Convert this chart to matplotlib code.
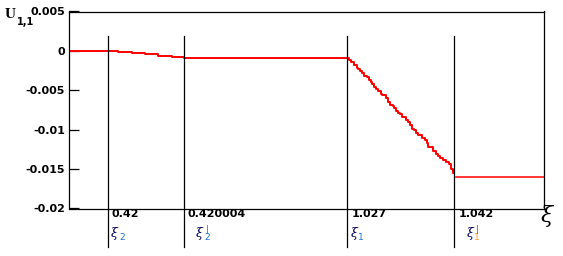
import matplotlib
matplotlib.use("Agg")
import matplotlib.pyplot as plt
from matplotlib.transforms import blended_transform_factory, offset_copy

# ── Data ──────────────────────────────────────────────────────────────────────
# horizontal coordinate is the plot's own arc position (axis has no numeric scale)
S_RANGE = (0, 475)

# step curve U_1,1
step_pos = [0, 49, 62.7, 76, 89, 103, 115,
            280.3, 281.7, 282.3, 285, 287.7, 289, 290.7, 293, 295, 298,
            300.3, 301.7, 303.3, 305.3, 307.3, 309.3, 312, 313, 316.7, 319.3,
            321.3, 324, 325.3, 327.3, 329.3, 331, 333, 336.7, 338.7, 341,
            343.3, 345, 347.3, 349.3, 353.3, 356, 357.7, 358.7, 361, 364.3,
            367, 368.7, 371, 373.7, 377, 379.7, 382, 384, 385.3]
step_u = [0, -0.000127, -0.00025, -0.00038, -0.00063, -0.00076, -0.00089,
          -0.00110, -0.00123, -0.00140, -0.00174, -0.00216, -0.00229, -0.00258, -0.00280, -0.00313, -0.00335,
          -0.00368, -0.00390, -0.00415, -0.00457, -0.00478, -0.00508, -0.00542, -0.00563, -0.00593, -0.00648,
          -0.00681, -0.00702, -0.00724, -0.00758, -0.00783, -0.00796, -0.00838, -0.00872, -0.00902, -0.00940,
          -0.00995, -0.00999, -0.01037, -0.01062, -0.01104, -0.01126, -0.01172, -0.01214, -0.01219, -0.01274,
          -0.01307, -0.01337, -0.01362, -0.01379, -0.01413, -0.01434, -0.01502, -0.01544, -0.01549]

tail_pos = [387, 475]
tail_u = [-0.01595, -0.01595]

# marker lines at the ξ values
xi_pos = [39, 115, 278.3, 385.3]
xi_vals = ["0.42", "0.420004", "1.027", "1.042"]
xi_sub = ["2", "2", "1", "1"]
xi_prime = [False, True, False, True]

y_ticks = [0.005, 0, -0.005, -0.01, -0.015, -0.02]
y_ticklabels = ["0.005", "0", "-0.005", "-0.01", "-0.015", "-0.02"]

# ── Figure ────────────────────────────────────────────────────────────────────
W, H, DPI = 563, 256, 100
fig = plt.figure(figsize=(W / DPI, H / DPI), dpi=DPI)
ax = fig.add_axes([69 / W, 1 - 208.5 / H, 475 / W, 197 / H])

ax.step(step_pos, step_u, where="post", color="red", linewidth=1.4)
ax.plot(tail_pos, tail_u, color="red", linewidth=1.1)

for p in xi_pos:
    ax.axvline(p, ymin=-0.195, ymax=0.876, color="black", linewidth=0.9,
               clip_on=False)

ax.set_xlim(*S_RANGE)
ax.set_ylim(-0.02, 0.005)
ax.set_xticks([])
ax.set_yticks(y_ticks)
ax.set_yticklabels(y_ticklabels, fontfamily="DejaVu Sans",
                   fontweight="bold", fontsize=8)
ax.tick_params(axis="y", direction="in", length=7, width=0.9, pad=3)
for sp in ax.spines.values():
    sp.set_linewidth(0.9)

# y-axis name
fig.text(5 / W, 1 - 15 / H, "U", family="Liberation Serif", weight="bold",
         fontsize=11, va="center", ha="left")
fig.text(17 / W, 1 - 22 / H, "1,1", family="DejaVu Sans", weight="bold",
         fontsize=7, va="center", ha="left")

# labels under the marker lines
trans = blended_transform_factory(ax.transData, fig.transFigure)
navy = "#000060"
blue = "#1874cd"
orange = "#f0a030"
for p, v, sub, pr in zip(xi_pos, xi_vals, xi_sub, xi_prime):
    ax.text(p, 1 - 214 / H, v, transform=offset_copy(trans, fig, x=4, units="dots"),
            family="DejaVu Sans", weight="bold", fontsize=8,
            va="center", ha="left")
    dx = 3 if not pr else 12
    ax.text(p, 1 - 233 / H, "\u03be", transform=offset_copy(trans, fig, x=dx, units="dots"),
            family="DejaVu Serif", style="italic", fontsize=9, color=navy,
            va="center", ha="left")
    sub_col = orange if (pr and sub == "1") else blue
    ax.text(p, 1 - 238 / H, sub, transform=offset_copy(trans, fig, x=dx + 8, units="dots"),
            family="DejaVu Sans", fontsize=6.5, color=sub_col,
            va="center", ha="left")
    if pr:
        ax.text(p, 1 - 229 / H, "|", transform=offset_copy(trans, fig, x=dx + 10, units="dots"),
                family="DejaVu Sans", fontsize=6, color=blue,
                va="center", ha="left")

# axis variable on the right
fig.text(541 / W, 1 - 216 / H, "\u03be", family="DejaVu Serif", style="italic",
         fontsize=16, va="center", ha="left")

fig.savefig("out.png", dpi=DPI)
